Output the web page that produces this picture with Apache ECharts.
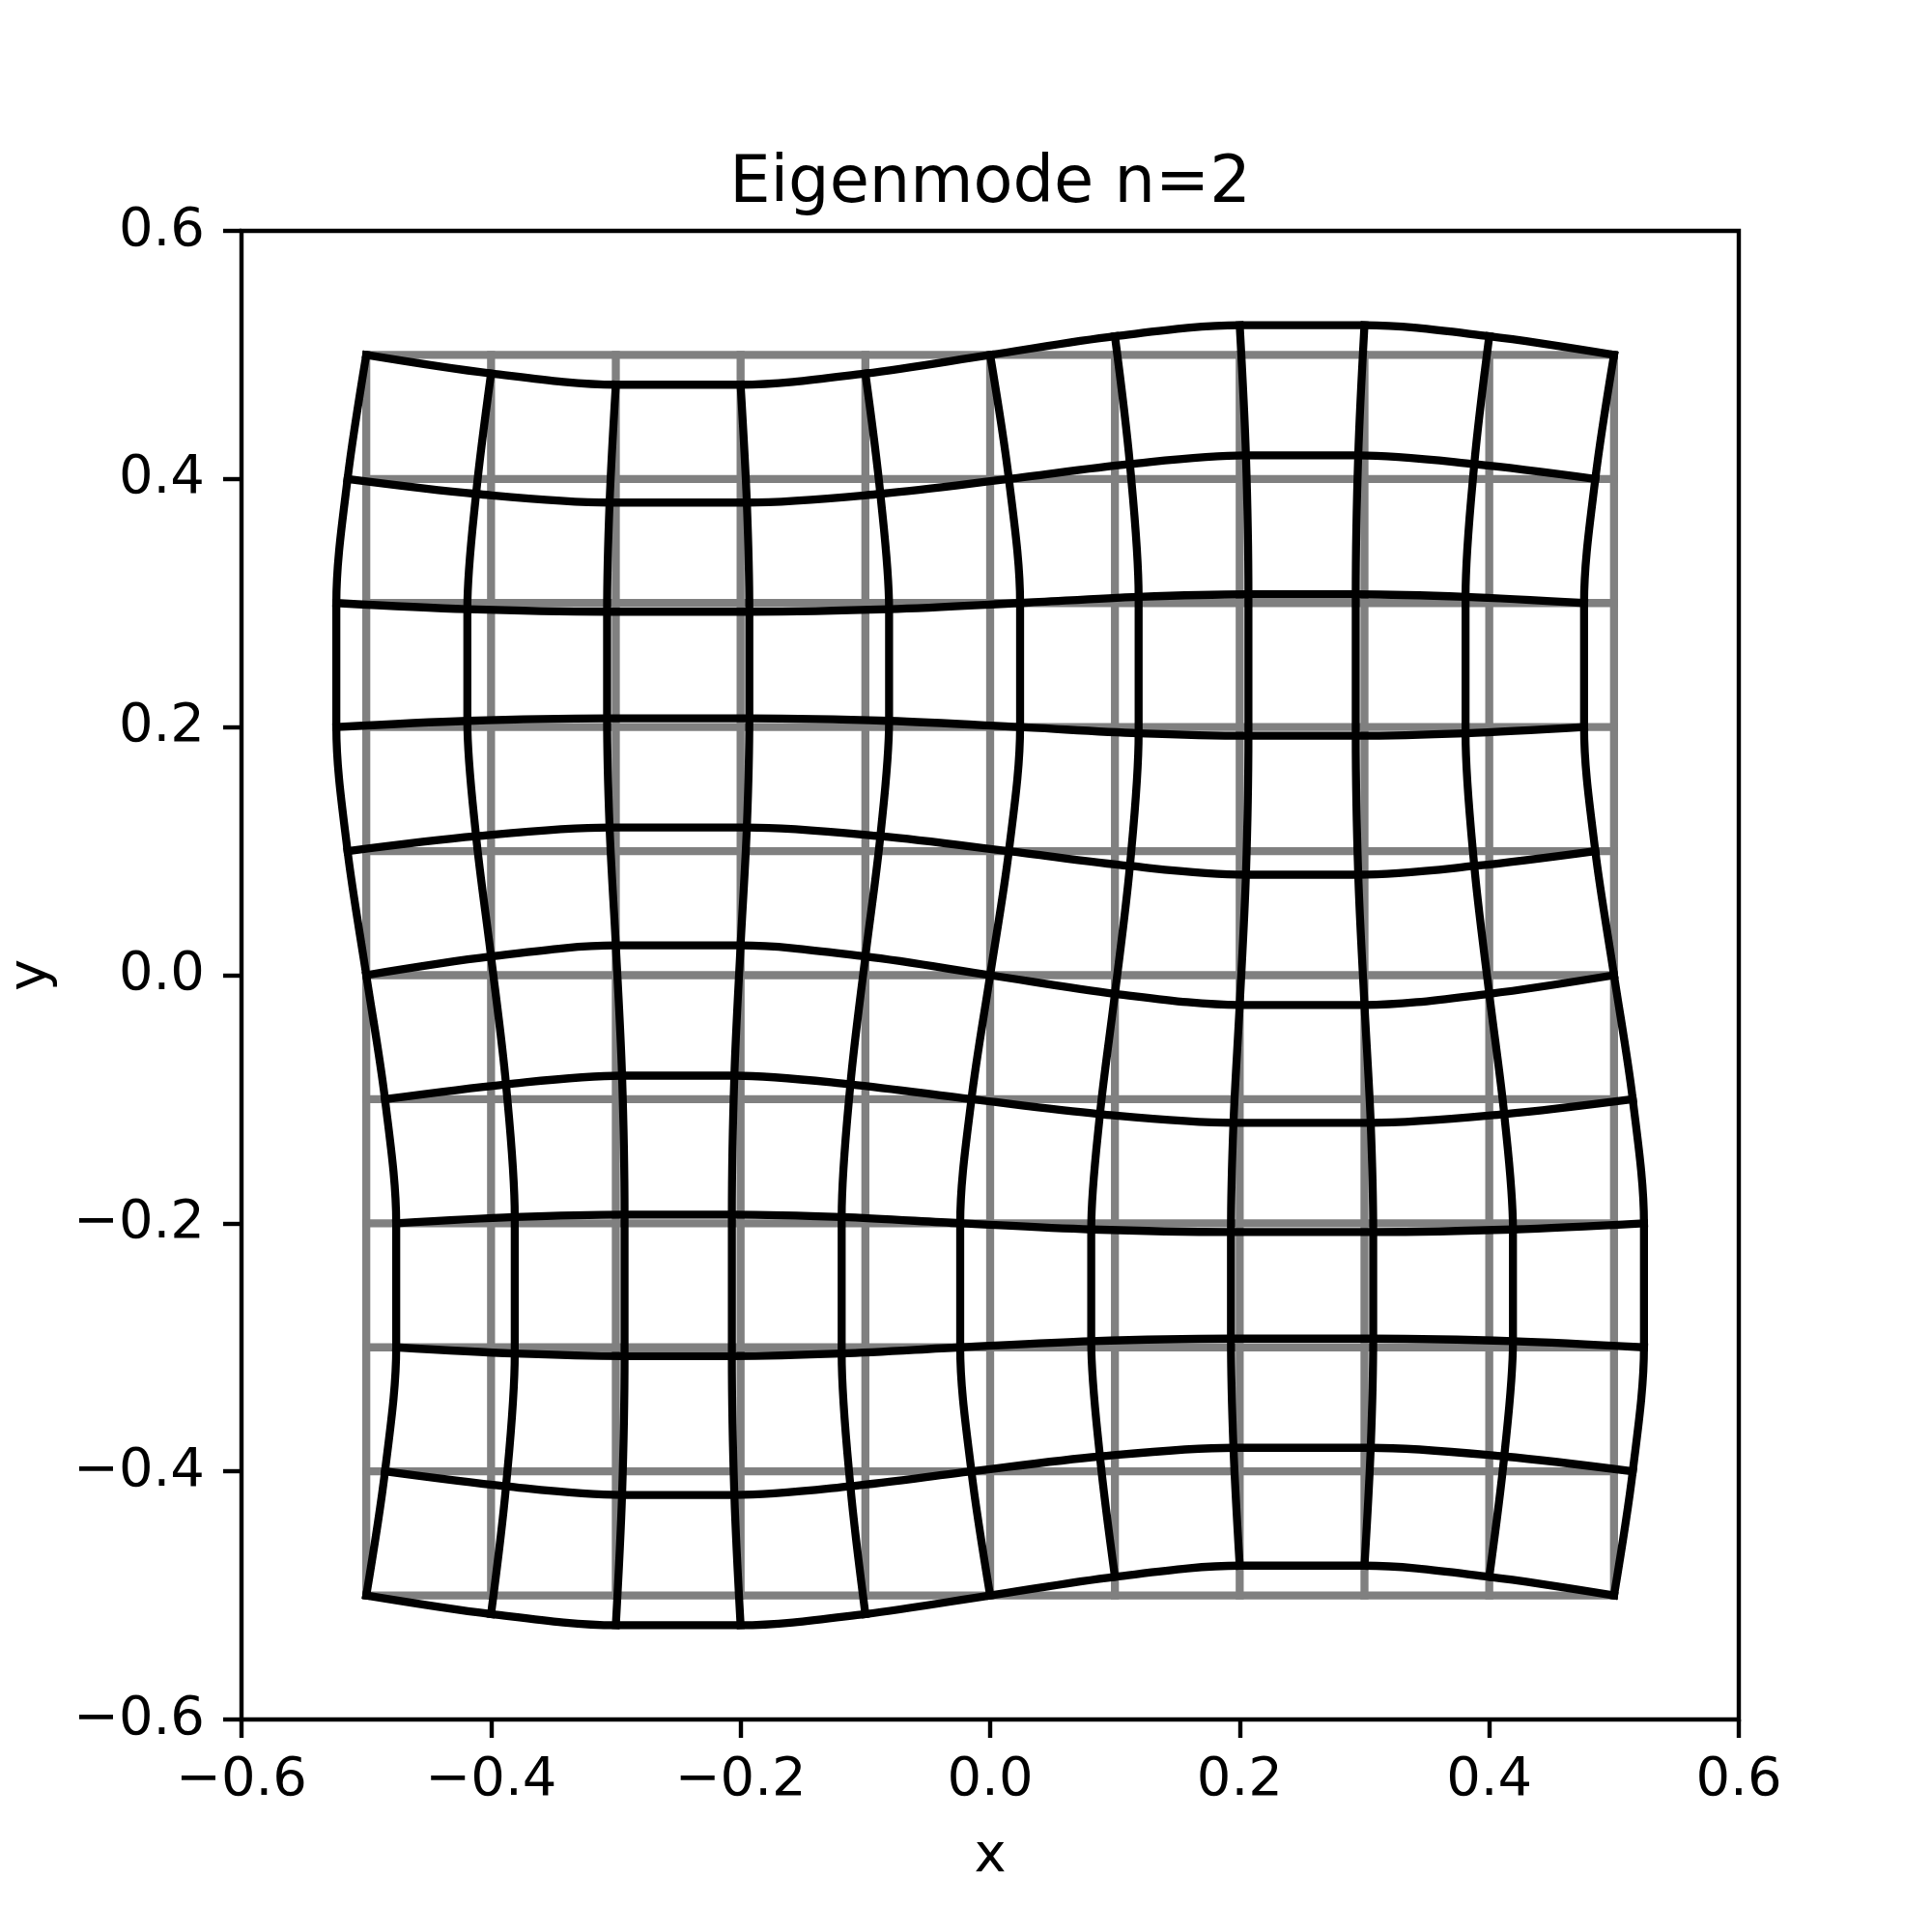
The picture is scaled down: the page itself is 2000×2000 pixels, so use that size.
<!DOCTYPE html>
<html>
<head>
<meta charset="utf-8">
<script src="https://cdn.jsdelivr.net/npm/echarts@6/dist/echarts.min.js"></script>
<style>html,body{margin:0;padding:0;background:#fff}#chart{width:2000px;height:2000px}</style>
</head>
<body>
<div id="chart"></div>
<script>
// Undeformed grid coordinates (grey reference grid)
const gridVals = [-0.5, -0.4, -0.3, -0.2, -0.1, 0, 0.1, 0.2, 0.3, 0.4, 0.5];
// Axis ticks
const tickVals = [-0.6, -0.4, -0.2, 0.0, 0.2, 0.4, 0.6];

// Deformed node positions (row j = original y = gridVals[j], column i = original x = gridVals[i])
const GX = [
  [-0.5, -0.4, -0.3, -0.2, -0.1, 0, 0.1, 0.2, 0.3, 0.4, 0.5],
  [-0.485, -0.388, -0.295, -0.205, -0.112, -0.015, 0.088, 0.195, 0.305, 0.412, 0.515],
  [-0.476, -0.381, -0.293, -0.207, -0.119, -0.024, 0.081, 0.193, 0.307, 0.419, 0.524],
  [-0.476, -0.381, -0.293, -0.207, -0.119, -0.024, 0.081, 0.193, 0.307, 0.419, 0.524],
  [-0.485, -0.388, -0.295, -0.205, -0.112, -0.015, 0.088, 0.195, 0.305, 0.412, 0.515],
  [-0.5, -0.4, -0.3, -0.2, -0.1, 0, 0.1, 0.2, 0.3, 0.4, 0.5],
  [-0.515, -0.412, -0.305, -0.195, -0.088, 0.015, 0.112, 0.205, 0.295, 0.388, 0.485],
  [-0.524, -0.419, -0.307, -0.193, -0.081, 0.024, 0.119, 0.207, 0.293, 0.381, 0.476],
  [-0.524, -0.419, -0.307, -0.193, -0.081, 0.024, 0.119, 0.207, 0.293, 0.381, 0.476],
  [-0.515, -0.412, -0.305, -0.195, -0.088, 0.015, 0.112, 0.205, 0.295, 0.388, 0.485],
  [-0.5, -0.4, -0.3, -0.2, -0.1, 0, 0.1, 0.2, 0.3, 0.4, 0.5]
];
const GY = [
  [-0.5, -0.515, -0.524, -0.524, -0.515, -0.5, -0.485, -0.476, -0.476, -0.485, -0.5],
  [-0.4, -0.412, -0.419, -0.419, -0.412, -0.4, -0.388, -0.381, -0.381, -0.388, -0.4],
  [-0.3, -0.305, -0.307, -0.307, -0.305, -0.3, -0.295, -0.293, -0.293, -0.295, -0.3],
  [-0.2, -0.195, -0.193, -0.193, -0.195, -0.2, -0.205, -0.207, -0.207, -0.205, -0.2],
  [-0.1, -0.088, -0.081, -0.081, -0.088, -0.1, -0.112, -0.119, -0.119, -0.112, -0.1],
  [0, 0.015, 0.024, 0.024, 0.015, 0, -0.015, -0.024, -0.024, -0.015, 0],
  [0.1, 0.112, 0.119, 0.119, 0.112, 0.1, 0.088, 0.081, 0.081, 0.088, 0.1],
  [0.2, 0.205, 0.207, 0.207, 0.205, 0.2, 0.195, 0.193, 0.193, 0.195, 0.2],
  [0.3, 0.295, 0.293, 0.293, 0.295, 0.3, 0.305, 0.307, 0.307, 0.305, 0.3],
  [0.4, 0.388, 0.381, 0.381, 0.388, 0.4, 0.412, 0.419, 0.419, 0.412, 0.4],
  [0.5, 0.485, 0.476, 0.476, 0.485, 0.5, 0.515, 0.524, 0.524, 0.515, 0.5]
];

const FONT = 'DejaVu Sans';
const GREY = '#808080';
const LW = 8.3;
const SMOOTH = 0.33;

const series = [];
// grey undeformed grid
gridVals.forEach(v => {
  series.push({type:'line', symbol:'none', silent:true, z:1,
    lineStyle:{color:GREY, width:LW, cap:'square'},
    data:[[gridVals[0], v], [gridVals[gridVals.length-1], v]]});
  series.push({type:'line', symbol:'none', silent:true, z:1,
    lineStyle:{color:GREY, width:LW, cap:'square'},
    data:[[v, gridVals[0]], [v, gridVals[gridVals.length-1]]]});
});
// deformed grid: rows
for (let j = 0; j < GX.length; j++) {
  series.push({type:'line', symbol:'none', silent:true, z:3, smooth:SMOOTH,
    lineStyle:{color:'#000', width:LW, join:'round', cap:'square'},
    data: GX[j].map((x, i) => [x, GY[j][i]])});
}
// deformed grid: columns
for (let i = 0; i < GX[0].length; i++) {
  series.push({type:'line', symbol:'none', silent:true, z:3, smooth:SMOOTH,
    lineStyle:{color:'#000', width:LW, join:'round', cap:'square'},
    data: GX.map((row, j) => [row[i], GY[j][i]])});
}

const fmt = v => Math.abs(v) < 1e-9 ? '0.0' : (v < 0 ? '\u2212' : '') + Math.abs(v).toFixed(1);

const chart = echarts.init(document.getElementById('chart'), null, {renderer:'canvas'});
chart.setOption({
  animation:false,
  backgroundColor:'#fff',
  title:{text:'Eigenmode n=2', left:1020, top:153, textAlign:'center',
    textStyle:{fontFamily:FONT, fontSize:67, fontWeight:'normal', color:'#000'}},
  grid:{left:250, top:239, width:1550, height:1541, show:true, borderColor:'#000', borderWidth:4.4,
    backgroundColor:'transparent', containLabel:false, outerBoundsMode:'none'},
  xAxis:{type:'value', min:tickVals[0], max:tickVals[tickVals.length-1], interval:0.2,
    name:'x', nameLocation:'middle', nameGap:114,
    nameTextStyle:{fontFamily:FONT, fontSize:56, color:'#000'},
    axisLine:{show:false, onZero:false},
    axisTick:{show:true, inside:false, length:19, lineStyle:{color:'#000', width:4.4}},
    axisLabel:{margin:35, formatter:fmt, fontFamily:FONT, fontSize:56, color:'#000'},
    splitLine:{show:false}},
  yAxis:{type:'value', min:tickVals[0], max:tickVals[tickVals.length-1], interval:0.2,
    name:'y', nameLocation:'middle', nameGap:190, nameRotate:90,
    nameTextStyle:{fontFamily:FONT, fontSize:56, color:'#000'},
    axisLine:{show:false, onZero:false},
    axisTick:{show:true, inside:false, length:19, lineStyle:{color:'#000', width:4.4}},
    axisLabel:{margin:38, formatter:fmt, fontFamily:FONT, fontSize:56, color:'#000'},
    splitLine:{show:false}},
  series: series
});
</script>
</body>
</html>
